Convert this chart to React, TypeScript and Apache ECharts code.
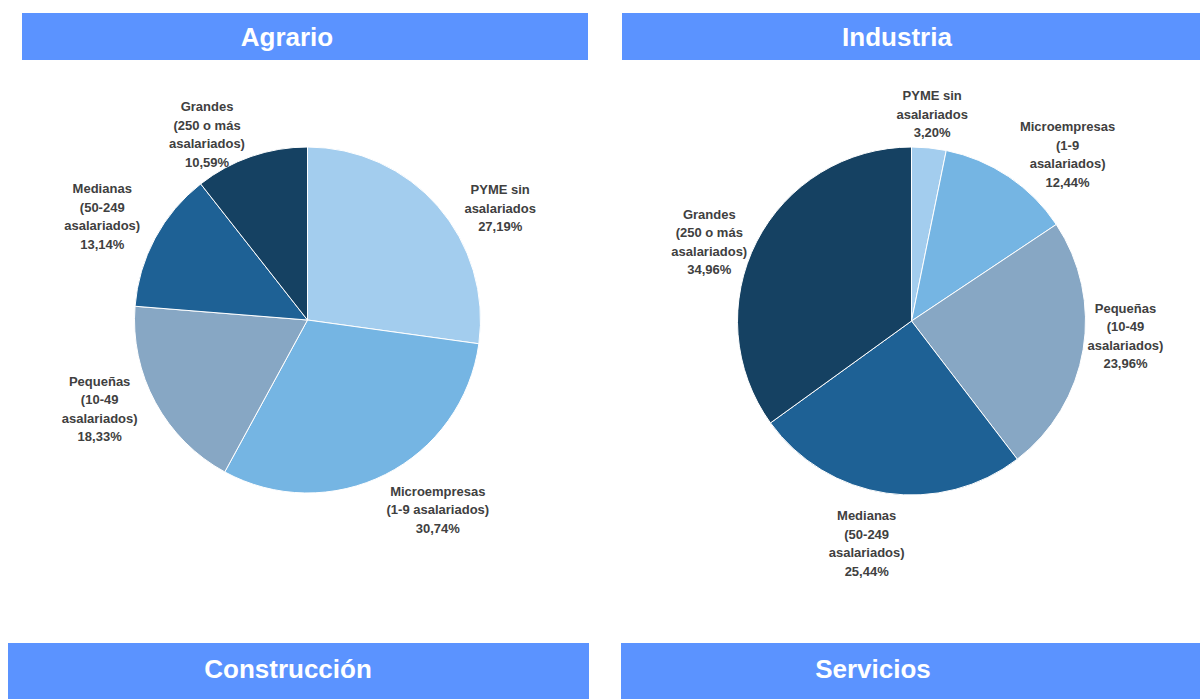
import React, { useEffect, useRef } from "react";
import * as echarts from "echarts";

const categories = [
  "PYME sin\nasalariados",
  "Microempresas\n(1-9 asalariados)",
  "Pequeñas\n(10-49\nasalariados)",
  "Medianas\n(50-249\nasalariados)",
  "Grandes\n(250 o más\nasalariados)",
];
const categoriesIndustria = [
  "PYME sin\nasalariados",
  "Microempresas\n(1-9\nasalariados)",
  "Pequeñas\n(10-49\nasalariados)",
  "Medianas\n(50-249\nasalariados)",
  "Grandes\n(250 o más\nasalariados)",
];
const agrarioValues = [27.19, 30.74, 18.33, 13.14, 10.59];
const industriaValues = [3.2, 12.44, 23.96, 25.44, 34.96];
const sliceColors = ["#A3CDEE", "#75B5E3", "#87A7C4", "#1E6195", "#154162"];
const panelTitles = ["Agrario", "Industria", "Construcción", "Servicios"];

// label nudges (px) relative to the library's outside label anchor
const agrarioLabelNudge = [
  [23, 36],
  [29, -11],
  [-10, -18],
  [-7, 3],
  [-27, 27],
];
const industriaLabelNudge = [
  [-2, 18],
  [30, 21],
  [-9, -22],
  [-12, -1],
  [-1, 24],
];

const HEADER = "#5B93FF";

function fmt(v: number) {
  return v.toFixed(2).replace(".", ",") + "%";
}

export default function App() {
  const ref = useRef<HTMLDivElement>(null);
  useEffect(() => {
    document.body.style.margin = "0";
    if (!ref.current) return;
    const chart = echarts.init(ref.current, undefined, { renderer: "svg" });

    const makePie = (
      names: string[],
      values: number[],
      nudges: number[][],
      cx: number,
      cy: number,
      r: number
    ) => ({
      type: "pie",
      center: [cx, cy],
      radius: r,
      startAngle: 90,
      clockwise: true,
      avoidLabelOverlap: false,
      data: values.map((v, i) => ({
        name: names[i],
        value: v,
        itemStyle: { color: sliceColors[i] },
      })),
      itemStyle: { borderColor: "#ffffff", borderWidth: 1 },
      label: {
        show: true,
        position: "outside",
        width: 140,
        distanceToLabelLine: 0,
        formatter: (p: any) => `${p.name}\n${fmt(p.value)}`,
        color: "#404040",
        fontFamily: "Liberation Sans, Arial, sans-serif",
        fontWeight: "bold",
        fontSize: 13,
        lineHeight: 18.5,
      },
      labelLine: { show: false, length: 52, length2: 0 },
      labelLayout: (p: any) => ({
        align: "center",
        verticalAlign: "middle",
        dx: nudges[p.dataIndex][0],
        dy: nudges[p.dataIndex][1],
      }),
      emphasis: { disabled: true },
    });

    const headerRects = [
      { x: 22, y: 13, w: 566, h: 47, tx: 287, ty: 37 },
      { x: 622, y: 13, w: 578, h: 47, tx: 897, ty: 37 },
      { x: 8, y: 643, w: 581, h: 60, tx: 288, ty: 669 },
      { x: 621, y: 643, w: 579, h: 60, tx: 873, ty: 669 },
    ];

    const graphics: any[] = [];
    headerRects.forEach((h, i) => {
      graphics.push({
        type: "rect",
        shape: { x: h.x, y: h.y, width: h.w, height: h.h },
        style: { fill: HEADER },
        silent: true,
      });
      graphics.push({
        type: "text",
        x: h.tx,
        y: h.ty,
        style: {
          text: panelTitles[i],
          fill: "#ffffff",
          font: "bold 26px 'Liberation Sans', Arial, sans-serif",
          textAlign: "center",
          textVerticalAlign: "middle",
        },
        silent: true,
      });
    });

    chart.setOption({
      animation: false,
      backgroundColor: "#ffffff",
      tooltip: { show: false },
      graphic: graphics,
      series: [
        makePie(categories, agrarioValues, agrarioLabelNudge, 307.5, 320, 173),
        makePie(categoriesIndustria, industriaValues, industriaLabelNudge, 911.5, 321, 174),
      ],
    });
    return () => chart.dispose();
  }, []);
  return <div ref={ref} style={{ width: 1200, height: 699 }} />;
}
